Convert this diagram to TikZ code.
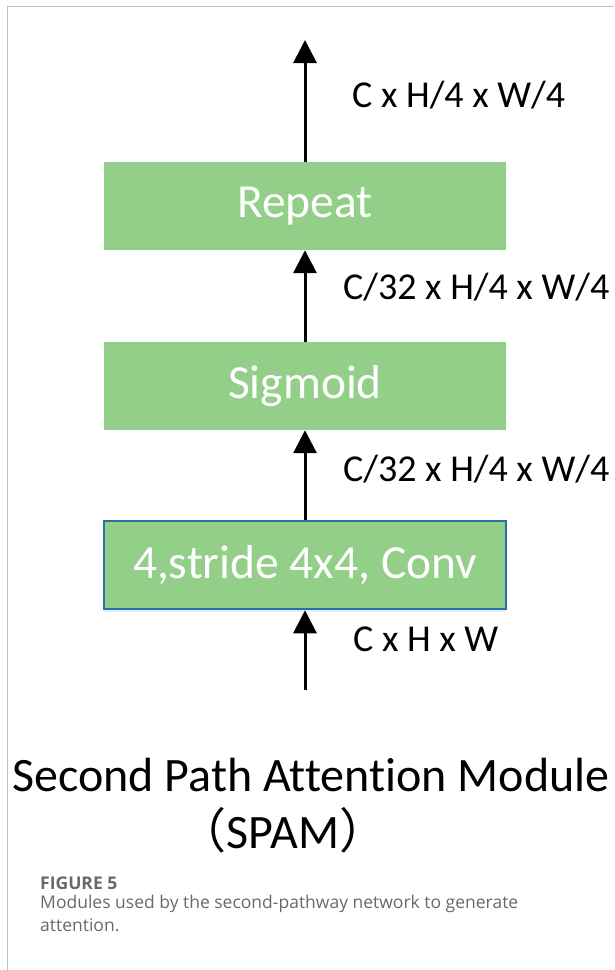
\documentclass[tikz,border=0pt]{standalone}
\usepackage{fontspec}
\setmainfont[Ligatures={NoCommon}]{Carlito}
\newfontfamily\capfont{Open Sans}
\newfontfamily\cjk{Noto Sans CJK SC}
\usetikzlibrary{arrows.meta,shadows}

\definecolor{boxgreen}{RGB}{147,207,137}
\definecolor{convblue}{RGB}{40,112,170}
\definecolor{capgray}{RGB}{105,105,105}

\tikzset{
  block/.style={fill=boxgreen, minimum width=402pt, minimum height=88pt,
    text=white, font=\fontsize{47.5}{50}\selectfont, inner sep=0pt},
  flow/.style={-{Triangle[width=23pt,length=23pt]}, line width=3pt},
  dimlabel/.style={anchor=west, inner sep=0pt, font=\fontsize{38}{40}\selectfont}
}

\begin{document}
\begin{tikzpicture}[x=1pt,y=-1pt]
    \useasboundingbox (0,0) rectangle (614,970);
    \draw [black!25, line width=1pt] (614,6)--(7,6)--(7,970);

    \node [block] (repeat) at (305,206) {Repeat};
    \node [block] (sigmoid) at (305,386) {Sigmoid};
    \node [block, draw=convblue, line width=2.5pt,
      drop shadow={opacity=0.12, fill=convblue, shadow xshift=0pt, shadow yshift=-3pt}]
      (conv) at (305,565) {4,stride 4x4, Conv};

    \coordinate (in) at (305,690);
    \coordinate (out) at (305,40);

    \draw [flow] (in)--(conv);
    \draw [flow] (conv)--(sigmoid);
    \draw [flow] (sigmoid)--(repeat);
    \draw [flow] (repeat)--(out);

    \node [dimlabel] (dout) at (352,95) {C x H/4 x W/4};
    \node [dimlabel] (drep) at (343,287) {C/32 x H/4 x W/4};
    \node [dimlabel] (dsig) at (343,469) {C/32 x H/4 x W/4};
    \node [dimlabel] (din) at (353,639) {C x H x W};

    \node [font=\fontsize{48}{50}\selectfont, inner sep=0pt] (title) at (311,775) {Second Path Attention Module};
    \node [font=\fontsize{48}{50}\selectfont, inner sep=0pt] (abbr) at (283,830) {{\cjk （}SPAM{\cjk ）}};

    \node [anchor=west, inner sep=0pt, text=capgray, font=\capfont\fontsize{17.5}{20}\selectfont\bfseries] (fig) at (40,883) {FIGURE 5};
    \node [anchor=north west, inner sep=0pt, text=capgray, align=left,
      font=\capfont\fontsize{17.5}{23}\selectfont] (cap) at (40,895)
      {Modules used by the second-pathway network to generate\\attention.};
\end{tikzpicture}
\end{document}
